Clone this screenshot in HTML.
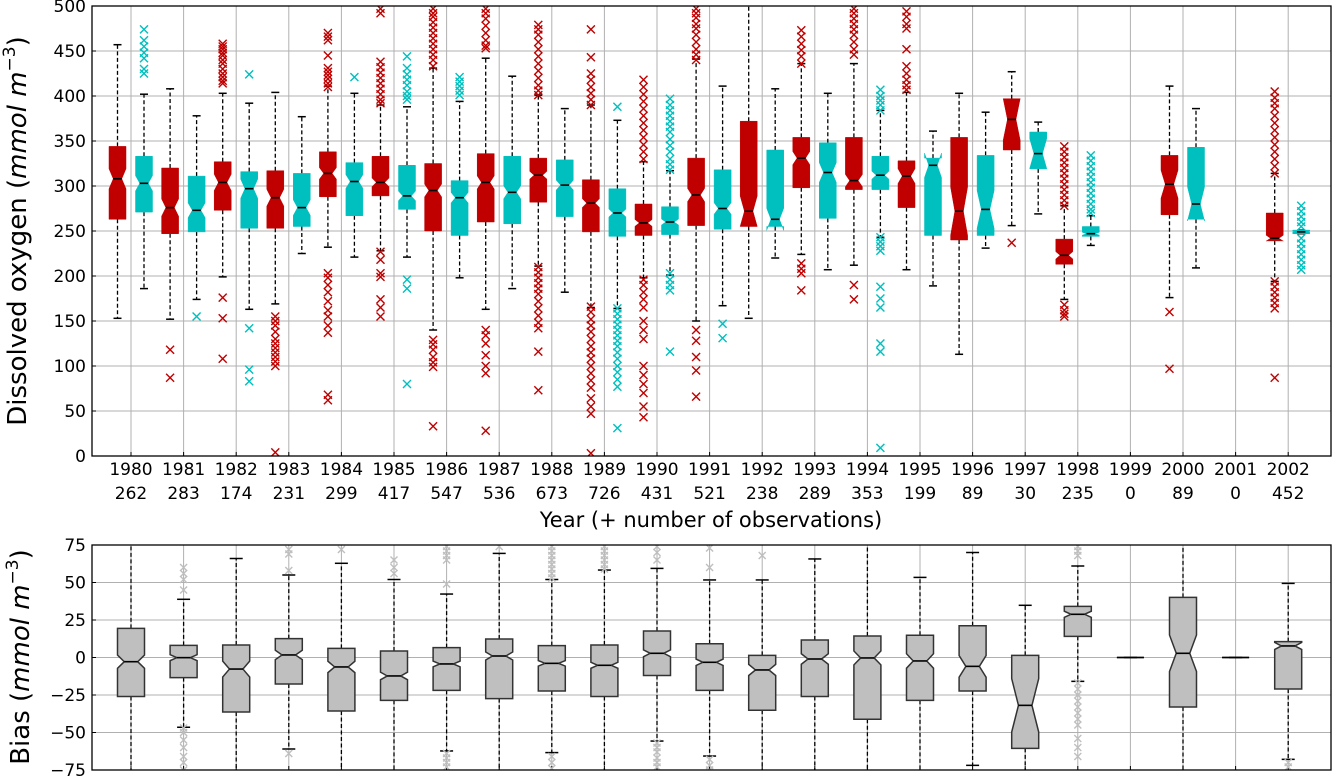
<!DOCTYPE html>
<html><head><meta charset="utf-8"><style>
html,body{margin:0;padding:0;background:#fff}
svg{display:block;font-family:"DejaVu Sans","Liberation Sans",sans-serif}
</style></head><body>
<svg id="chart" width="1333" height="777" viewBox="0 0 1333 777" xmlns="http://www.w3.org/2000/svg">
<defs>
<clipPath id="clipTop"><rect x="92" y="6" width="1239" height="450"/></clipPath>
<clipPath id="clipBot"><rect x="92" y="545" width="1239" height="225"/></clipPath>
</defs>
<g id="topPanel"></g>
<g id="botPanel"></g>
<text transform="translate(26,231) rotate(-90)" text-anchor="middle" font-size="26">Dissolved oxygen (<tspan font-style="italic">mmol m</tspan><tspan font-size="17" dy="-11">−3</tspan><tspan dy="11">)</tspan></text>
<text transform="translate(29,657) rotate(-90)" text-anchor="middle" font-size="26">Bias (<tspan font-style="italic">mmol m</tspan><tspan font-size="17" dy="-11">−3</tspan><tspan dy="11">)</tspan></text>
<text x="711" y="527" text-anchor="middle" font-size="21">Year (+ number of observations)</text>
</svg>
<script>
const years = [1980,1981,1982,1983,1984,1985,1986,1987,1988,1989,1990,1991,1992,1993,1994,1995,1996,1997,1998,1999,2000,2001,2002];
const obs = [262,283,174,231,299,417,547,536,673,726,431,521,238,289,353,199,89,30,235,0,89,0,452];
// red series: [whislo, q1, med, q3, whishi]
const redStats = [
[153,263,308,344,457],[152,247,276,320,408],[199,273,304,327,403],[169,253,287,317,404],
[232,288,314,338,411],[228,289,304,333,390],[140,250,295,325,431],[163,260,304,336,442],
[211,282,312,331,401],[165,249,281,307,390],[198,245,259,280,327],[150,256,290,331,441],
[153,255,272,372,520],[224,298,331,354,436],[212,296,306,354,436],[207,276,311,328,404],
[113,240,272,354,403],[256,340,374,397,427],[174,213,223,241,278],null,
[176,268,302,334,411],null,[194,239,242,270,314]];
const cyanStats = [
[186,271,303,333,402],[174,249,273,311,378],[163,253,297,316,392],[225,255,276,314,377],
[221,267,305,326,403],[221,274,289,323,388],[198,245,287,306,394],[186,258,293,333,422],
[182,266,301,329,386],[164,244,270,297,373],[201,246,260,277,317],[167,252,275,318,411],
[220,255,263,340,408],[207,264,315,348,403],[243,296,312,333,384],[189,245,323,331,361],
[231,245,274,334,382],[269,319,336,360,371],[234,244,247,255,267],null,
[209,263,280,343,386],null,[247,247,249,251,251]];
const redOut = [[],[118,87],[458,455,452,448,445,440,436,430,425,421,417,414,176,153,108],
[155,150,145,138,130,125,120,115,110,105,100,4],
[470,466,462,445,431,427,423,419,414,410,203,198,190,182,172,162,155,145,137,68,62],
[497,492,438,432,426,420,414,408,402,396,392,227,218,203,199,174,165,155],
[497,492,488,482,476,470,464,458,452,446,440,433,129,124,118,110,104,99,33],
[497,492,486,478,470,462,456,453,140,134,125,112,100,92,28],
[479,474,468,460,452,444,436,428,420,412,406,401,210,204,198,192,186,180,172,164,156,148,142,116,73],
[474,443,425,418,410,403,396,390,166,160,152,145,138,130,122,115,108,100,92,84,76,64,55,47,3],
[418,410,402,394,386,378,370,362,354,346,338,330,196,190,182,174,165,150,140,130,100,90,80,70,55,43],
[497,492,487,480,475,468,460,452,446,440,140,128,110,95,66],[],
[473,466,458,451,444,436,214,208,203,184],[497,492,486,480,474,468,460,452,446,190,174],
[494,488,480,475,452,433,425,418,412,407],[],[237],
[344,338,332,326,320,314,308,302,296,290,284,278,168,162,158,155],[],[160,97],[],
[405,398,392,386,378,370,362,354,346,338,330,322,314,194,188,182,176,170,164,87]];
const cyanOut = [[474,462,455,448,442,430,425],[155],[424,142,96,83],[],[421],
[444,431,424,418,412,405,400,396,196,186,80],[421,416,411,406,401],[],[],
[388,164,158,152,146,140,134,128,122,115,108,100,93,85,77,31],
[397,390,384,378,372,366,360,352,345,338,330,324,318,203,196,190,184,116],[147,131],[],[],
[407,400,395,390,384,243,238,233,228,188,175,165,125,116,9],[],[],[],
[334,328,322,316,310,304,298,292,286,280,274,270],[],[],[],
[278,272,266,260,255,242,236,230,224,218,212,207]];
const biasStats = [
[-90,-26,-2.8,19.4,90],[-46.5,-13.4,-0.1,8.1,38.8],[-90,-36.3,-7.7,8.3,66],[-61,-17.7,1.7,12.6,55],
[-90,-35.7,-6.3,6.1,62.8],[-90,-28.6,-12.3,4.3,52],[-62.3,-21.9,-4.3,6.6,42.3],[-90,-27.4,1,12.3,69.4],
[-63.4,-22.3,-3.9,7.9,52],[-90,-26,-5.2,8.3,58.3],[-55.7,-12,2.8,17.7,59.4],[-65.7,-21.9,-3.2,9.2,51.7],
[-90,-35.2,-8.3,1.4,51.7],[-90,-26,-1,11.7,65.7],[-90,-41.2,-0.3,14.3,90],[-90,-28.6,-2.3,14.8,53.4],
[-71.9,-22.3,-5.9,21.2,70],[-90,-60.6,-31.9,1.4,34.8],[-15.9,14.1,28.8,34.1,61],[0,0,0,0,0],
[-90,-33,2.8,40.1,90],[0,0,0,0,0],[-67.9,-21,7.7,10.6,49.4]];
const biasOut = [[],[60,56,52,45,-47,-50,-55,-60,-66,-70,-75],[],[72,69,58,-64],[72],[65,60,56],
[74,71,68,65,49,-64,-67,-70,-73],[74],[74,71,68,65,62,59,56,53,-66,-70,-74],[74,71,68,65,62,59],
[74,70,65,-57,-60,-63,-67,-70,-73],[73,60,-68,-72,-75],[68],[],[],[],[],[],
[74,71,68,-17,-21,-25,-29,-33,-37,-41,-45,-54,-60,-66],[],[],[],[-70,-73]];
const topTicks = [0,50,100,150,200,250,300,350,400,450,500];
const botTicks = [-75,-50,-25,0,25,50,75];

const NS='http://www.w3.org/2000/svg';
function mk(tag, attrs, parent){const e=document.createElementNS(NS,tag);for(const k in attrs)e.setAttribute(k,attrs[k]);parent.appendChild(e);return e;}
const xPos = i => 131 + i*52.6;
const yTop = v => 456 - (v-0)*450/500;
const yBot = v => 545 + (75-v)*225/150;
const PL=92,PR=1331;

function frame(g, y0, y1, ticks, ys, name){
  const grid=mk('g',{},g);
  
  
  ticks.forEach(t=>{mk('line',{x1:PL,x2:PR,y1:ys(t),y2:ys(t),stroke:'#b0b0b0','stroke-width':1},grid);});
  years.forEach((yr,i)=>{mk('line',{x1:xPos(i),x2:xPos(i),y1:y0,y2:y1,stroke:'#b0b0b0','stroke-width':1},grid);});
  ticks.forEach(t=>{
    mk('line',{x1:PL,x2:PL+4,y1:ys(t),y2:ys(t),stroke:'#000','stroke-width':1},g);
    const tx=mk('text',{x:PL-6,y:ys(t)+6,'text-anchor':'end','font-size':17},g);
    
    
    tx.textContent = t<0 ? '−'+Math.abs(t) : String(t);
  });
  years.forEach((yr,i)=>{mk('line',{x1:xPos(i),x2:xPos(i),y1:y1,y2:y1-4,stroke:'#000','stroke-width':1},g);});
}
function boxPath(cx,w,s,half,ys){
  const l=cx-w/2,r=cx+w/2,ind=half>0?w/4:0;
  const nlo=s[2]-half,nhi=s[2]+half;
  return `M${l},${ys(s[1])}L${l},${ys(nlo)}L${l+ind},${ys(s[2])}L${l},${ys(nhi)}L${l},${ys(s[3])}L${r},${ys(s[3])}L${r},${ys(nhi)}L${r-ind},${ys(s[2])}L${r},${ys(nlo)}L${r},${ys(s[1])}Z`;
}
function drawBox(g,cx,w,s,half,ys,fill,edge,capW,outs,outColor,msz,name){
  const bg=mk('g',{},g);
  
  
  mk('line',{x1:cx,x2:cx,y1:ys(s[1]),y2:ys(s[0]),stroke:'#000','stroke-width':1.3,'stroke-dasharray':'4,2.5'},bg);
  mk('line',{x1:cx,x2:cx,y1:ys(s[3]),y2:ys(s[4]),stroke:'#000','stroke-width':1.3,'stroke-dasharray':'4,2.5'},bg);
  mk('line',{x1:cx-capW/2,x2:cx+capW/2,y1:ys(s[0]),y2:ys(s[0]),stroke:'#000','stroke-width':1.5},bg);
  mk('line',{x1:cx-capW/2,x2:cx+capW/2,y1:ys(s[4]),y2:ys(s[4]),stroke:'#000','stroke-width':1.5},bg);
  mk('path',{d:boxPath(cx,w,s,half,ys),fill:fill,stroke:edge==='none'?fill:edge,'stroke-width':edge==='none'?0.5:1.5},bg);
  const ind = half>0 ? w/4 : 0;
  mk('line',{x1:cx-w/2+ind,x2:cx+w/2-ind,y1:ys(s[2]),y2:ys(s[2]),stroke:'#000','stroke-width':1.6},bg);
  outs.forEach(v=>{
    const y=ys(v),d=msz/2;
    mk('path',{d:`M${cx-d},${y-d}L${cx+d},${y+d}M${cx-d},${y+d}L${cx+d},${y-d}`,stroke:outColor,'stroke-width':1.4,fill:'none'},bg);
  });
}
const topG=document.getElementById('topPanel'), botG=document.getElementById('botPanel');
frame(topG,6,456,topTicks,yTop,'oxygen');
frame(botG,545,770,botTicks,yBot,'bias');
const topPlot=mk('g',{'clip-path':'url(#clipTop)'},topG);
const botPlot=mk('g',{'clip-path':'url(#clipBot)'},botG);
years.forEach((yr,i)=>{
  const cx=xPos(i), n=obs[i];
  if(redStats[i]){const s=redStats[i];const h=1.57*(s[3]-s[1])/Math.sqrt(Math.max(n/2,1));
    drawBox(topPlot,cx-13.5,17,s,h,yTop,'#c00000','none',8,redOut[i],'#c00000',8,'oxygen-box-red-'+yr);}
  if(cyanStats[i]){const s=cyanStats[i];const h=1.57*(s[3]-s[1])/Math.sqrt(Math.max(n/2,1));
    drawBox(topPlot,cx+13,17,s,h,yTop,'#00bfbf','none',8,cyanOut[i],'#00bfbf',8,'oxygen-box-cyan-'+yr);}
  const b=biasStats[i];const hb= n>0 ? 1.57*(b[3]-b[1])/Math.sqrt(n) : 0;
  drawBox(botPlot,cx,27,b,hb,yBot,'#bfbfbf','#333',13,biasOut[i],'#bfbfbf',7,'bias-box-'+yr);
  const t1=mk('text',{x:cx,y:475,'text-anchor':'middle','font-size':17},topG);
  
  
  t1.textContent=yr;
  const t2=mk('text',{x:cx,y:499,'text-anchor':'middle','font-size':17},topG);
  
  
  t2.textContent=n;
});
mk('rect',{x:PL,y:6,width:PR-PL,height:450,fill:'none',stroke:'#000','stroke-width':1.3},topG);
mk('rect',{x:PL,y:545,width:PR-PL,height:225,fill:'none',stroke:'#000','stroke-width':1.3},botG);
</script>
</body></html>
